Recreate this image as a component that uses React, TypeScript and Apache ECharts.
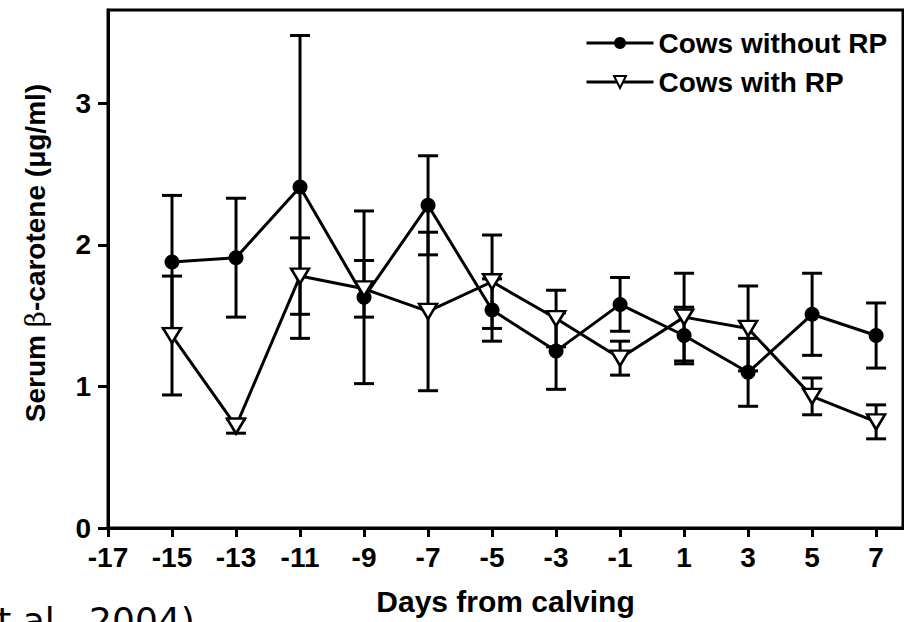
import React, { useEffect, useRef } from "react";
import * as echarts from "echarts";

const days = [-15, -13, -11, -9, -7, -5, -3, -1, 1, 3, 5, 7];
const withoutRP = [1.88, 1.91, 2.41, 1.63, 2.28, 1.54, 1.25, 1.58, 1.36, 1.1, 1.51, 1.36];
const withoutRPErr = [0.47, 0.42, 1.07, 0.61, 0.35, 0.22, 0.27, 0.19, 0.2, 0.24, 0.29, 0.23];
const withRP = [1.36, 0.72, 1.78, 1.69, 1.53, 1.74, 1.48, 1.2, 1.49, 1.41, 0.93, 0.75];
const withRPErr = [0.42, 0.05, 0.27, 0.2, 0.56, 0.33, 0.2, 0.12, 0.31, 0.3, 0.13, 0.12];
const xTicks = [-17, -15, -13, -11, -9, -7, -5, -3, -1, 1, 3, 5, 7];
const yTicks = [0, 1, 2, 3];
const seriesNames = ["Cows without RP", "Cows with RP"];

const FONT = "'Liberation Sans', Arial, sans-serif";
const TRI = "path://M0,0L20,0L10,17Z";

function errorSeries(means: number[], errs: number[]) {
  return {
    type: "custom",
    silent: true,
    z: 2,
    encode: { x: 0, y: [1, 2] },
    data: days.map((d, i) => [d, means[i] - errs[i], means[i] + errs[i]]),
    renderItem: (params: any, api: any) => {
      const x = api.value(0);
      const top = api.coord([x, api.value(2)]);
      const bot = api.coord([x, api.value(1)]);
      const w = 10;
      const style = { stroke: "#000", lineWidth: 3 };
      return {
        type: "group",
        children: [
          { type: "line", shape: { x1: top[0], y1: top[1], x2: bot[0], y2: bot[1] }, style },
          { type: "line", shape: { x1: top[0] - w, y1: top[1], x2: top[0] + w, y2: top[1] }, style },
          { type: "line", shape: { x1: bot[0] - w, y1: bot[1], x2: bot[0] + w, y2: bot[1] }, style },
        ],
      };
    },
  };
}

export default function App() {
  const ref = useRef<HTMLDivElement>(null);
  useEffect(() => {
    if (!ref.current) return;
    const chart = echarts.init(ref.current, undefined, { renderer: "svg" });
    chart.setOption({
      animation: false,
      backgroundColor: "#fff",
      textStyle: { fontFamily: FONT, color: "#000" },
      grid: {
        left: 108,
        right: 1,
        top: 10,
        bottom: 94,
        show: true,
        borderColor: "#000",
        borderWidth: 3,
        backgroundColor: "transparent",
      },
      legend: {
        data: seriesNames,
        orient: "vertical",
        left: 580,
        top: 24,
        itemWidth: 67,
        itemHeight: 15,
        itemGap: 11,
        lineStyle: { width: 3, color: "#000" },
        textStyle: { fontFamily: FONT, fontWeight: "bold", fontSize: 28, color: "#000", lineHeight: 28 },
      },
      xAxis: {
        type: "value",
        min: -17,
        max: 7.84,
        name: "Days from calving",
        nameLocation: "middle",
        nameGap: 58,
        nameTextStyle: { fontFamily: FONT, fontWeight: "bold", fontSize: 30, color: "#000" },
        splitLine: { show: false },
        axisLine: { show: true, onZero: false, lineStyle: { color: "#000", width: 3 } },
        axisTick: { show: true, customValues: xTicks, length: 9, lineStyle: { color: "#000", width: 3 } },
        axisLabel: {
          customValues: xTicks,
          margin: 15,
          fontFamily: FONT,
          fontWeight: "bold",
          fontSize: 28,
          color: "#000",
        },
      },
      yAxis: {
        type: "value",
        min: 0,
        max: 3.66,
        name: "Serum {b|β}-carotene (μg/ml)",
        nameLocation: "middle",
        nameGap: 59,
        nameRotate: 90,
        nameTextStyle: {
          fontFamily: FONT,
          fontWeight: "bold",
          fontSize: 28,
          color: "#000",
          padding: [0, 0, 0, 32],
          rich: { b: { fontFamily: "'DejaVu Serif', serif", fontWeight: "normal", fontSize: 28, color: "#000" } },
        },
        splitLine: { show: false },
        axisLine: { show: true, onZero: false, lineStyle: { color: "#000", width: 3 } },
        axisTick: { show: true, customValues: yTicks, length: 10, lineStyle: { color: "#000", width: 3 } },
        axisLabel: {
          customValues: yTicks,
          margin: 17,
          fontFamily: FONT,
          fontWeight: "bold",
          fontSize: 28,
          color: "#000",
        },
      },
      graphic: [
        {
          type: "text",
          x: -25,
          y: 620,
          style: {
            text: "et al., 2004)",
            font: "36px 'DejaVu Sans'",
            fill: "#000",
            verticalAlign: "middle",
          },
        },
      ],
      series: [
        errorSeries(withoutRP, withoutRPErr),
        errorSeries(withRP, withRPErr),
        {
          name: seriesNames[0],
          type: "line",
          z: 3,
          data: days.map((d, i) => [d, withoutRP[i]]),
          symbol: "circle",
          symbolSize: 15,
          itemStyle: { color: "#000" },
          lineStyle: { color: "#000", width: 3 },
        },
        {
          name: seriesNames[1],
          type: "line",
          z: 4,
          data: days.map((d, i) => [d, withRP[i]]),
          symbol: TRI,
          symbolSize: [18, 15],
          itemStyle: { color: "#fff", borderColor: "#000", borderWidth: 2.5 },
          lineStyle: { color: "#000", width: 3 },
        },
      ],
    });
    return () => chart.dispose();
  }, []);
  return (
    <div
      ref={ref}
      style={{ position: "absolute", left: 0, top: 0, width: 904, height: 622, background: "#fff" }}
    />
  );
}
